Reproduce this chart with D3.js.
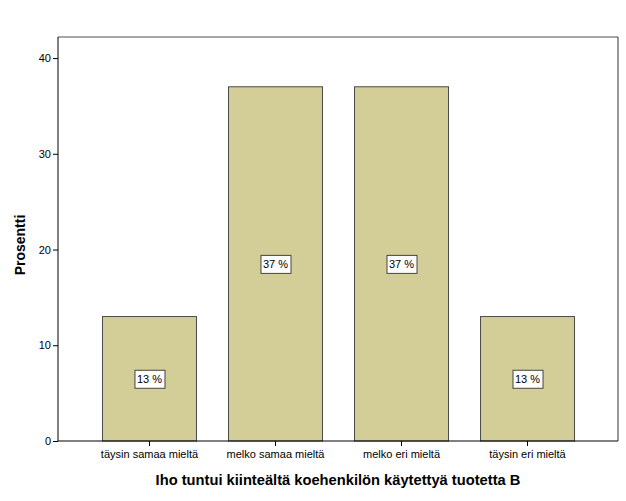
<!DOCTYPE html>
<html><head><meta charset="utf-8">
<script src="https://cdn.jsdelivr.net/npm/d3@7"></script>
<style>body{margin:0;background:#fff}</style>
</head><body>
<script>
const categories = ["täysin samaa mieltä","melko samaa mieltä","melko eri mieltä","täysin eri mieltä"];
const values = [13, 37, 37, 13];
const labels = ["13 %","37 %","37 %","13 %"];
const yTicks = [0,10,20,30,40];

const W=626,H=501;
const L=58,R=618,T=37,B=441;
const svg=d3.select("body").append("svg").attr("width",W).attr("height",H)
  .style("font-family","Arial, 'Liberation Sans', sans-serif");

const x=d3.scaleBand().domain(categories).range([L,R]).paddingInner(0.254).paddingOuter(0.349);
const y=d3.scaleLinear().domain([0,42.2]).range([B,T]);

svg.append("line").attr("x1",L).attr("x2",R).attr("y1",T).attr("y2",T).attr("stroke","#888").attr("stroke-width",1.5);
svg.append("line").attr("x1",R).attr("x2",R).attr("y1",T).attr("y2",B).attr("stroke","#333").attr("stroke-width",1);

svg.selectAll("rect.bar").data(values).enter().append("rect")
  .attr("x",(d,i)=>x(categories[i])+0.5).attr("width",x.bandwidth())
  .attr("y",d=>y(d)).attr("height",d=>B-y(d))
  .attr("fill","#d3ce98").attr("stroke","#4a4a4a").attr("stroke-width",1);

const lg=svg.selectAll("g.lab").data(values).enter().append("g")
  .attr("transform",(d,i)=>`translate(${x(categories[i])+x.bandwidth()/2+0.5},${y(d/2)})`);
lg.append("rect").attr("x",-14.5).attr("y",-8.5).attr("width",30).attr("height",18)
  .attr("fill","#fff").attr("stroke","#444").attr("stroke-width",1);
lg.append("text").text((d,i)=>labels[i]).attr("text-anchor","middle").attr("y",4.5)
  .attr("font-size",11).attr("fill","#000");

const ya=svg.append("g").attr("transform",`translate(${L},0)`)
  .call(d3.axisLeft(y).tickValues(yTicks).tickSize(5).tickPadding(2));
ya.select(".domain").attr("d",`M0,${T}V${B}`).attr("stroke","#000");
ya.selectAll("text").attr("font-size",11).attr("fill","#000").attr("font-family","Arial, 'Liberation Sans', sans-serif");

const xa=svg.append("g").attr("transform",`translate(0,${B})`)
  .call(d3.axisBottom(x).tickSize(5).tickPadding(4));
xa.select(".domain").attr("d",`M${L},0H${R}`).attr("stroke","#000");
xa.selectAll(".tick").attr("transform",d=>`translate(${x(d)+x.bandwidth()/2+0.5},0)`);
xa.selectAll("text").attr("font-size",11).attr("fill","#000").attr("font-family","Arial, 'Liberation Sans', sans-serif");

svg.append("text").text("Prosentti").attr("transform",`translate(25,${(T+B)/2+6}) rotate(-90)`)
  .attr("text-anchor","middle").attr("font-size",14).attr("font-weight","bold");
svg.append("text").text("Iho tuntui kiinteältä koehenkilön käytettyä tuotetta B")
  .attr("x",(L+R)/2).attr("y",485).attr("text-anchor","middle").attr("font-size",14.7).attr("font-weight","bold");
</script>
</body></html>
